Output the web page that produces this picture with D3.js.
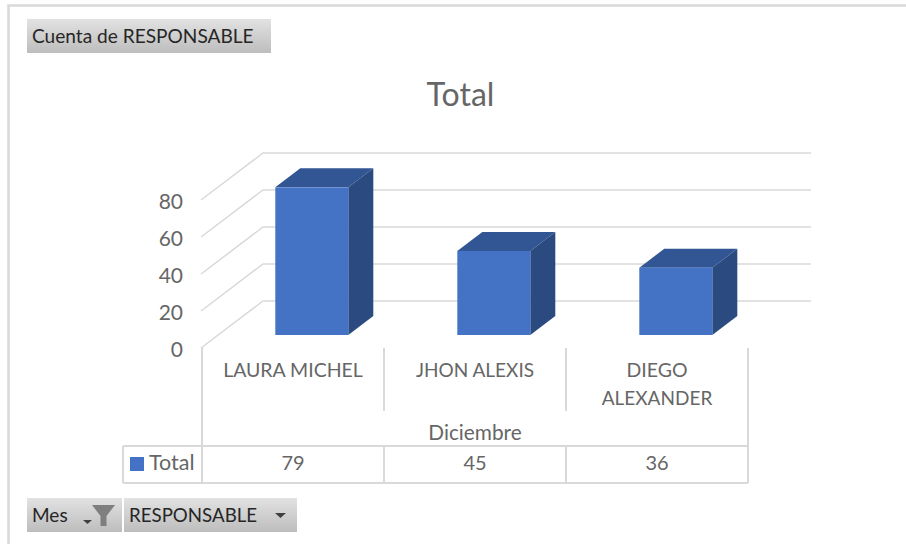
<!DOCTYPE html>
<html><head><meta charset="utf-8">
<script src="https://cdn.jsdelivr.net/npm/d3@7"></script>
<style>html,body{margin:0;padding:0;background:#fff}svg{display:block}text{font-family:Lato,sans-serif}</style>
</head><body><svg id="c" width="906" height="544"></svg>
<script>
const categories = ["LAURA MICHEL", "JHON ALEXIS", "DIEGO ALEXANDER"];
const values = [79, 45, 36];
const yTicks = [0, 20, 40, 60, 80];
const seriesName = "Total";
const groupLabel = "Diciembre";
const title = "Total";
const valueButton = "Cuenta de RESPONSABLE";
const filterButtons = ["Mes", "RESPONSABLE"];

const svg = d3.select("#c");
const defs = svg.append("defs");
const g = defs.append("linearGradient").attr("id","btn").attr("x1",0).attr("x2",0).attr("y1",0).attr("y2",1);
g.append("stop").attr("offset",0).attr("stop-color","#e2e2e2");
g.append("stop").attr("offset",1).attr("stop-color","#bdbdbd");

const grid = "#d9d9d9", txt = "#666666", dark = "#262626";
const x = d3.scaleBand().domain(categories).range([202,748]);
const h = d3.scaleLinear().domain([0,80]).range([0,148]);
const hBar = d3.scaleLinear().domain([0,80]).range([0,149.5]);
const wall = {dx:62, dy:47, frontY:348, right:811};
const bar = {w:73, dx:25, dy:19, base:335};

// chart frame
svg.append("path").attr("d","M906,5.5H8.5V544").attr("fill","none").attr("stroke","#d9d9d9").attr("stroke-width",2.5);

// walls
yTicks.forEach(v=>{
  const fy = wall.frontY - h(v);
  svg.append("path").attr("fill","none").attr("stroke",grid).attr("stroke-width",1.5)
    .attr("d",`M201,${fy}L${201+wall.dx},${fy-wall.dy}H${wall.right}`);
  svg.append("text").attr("x",183).attr("y",fy+8.5).attr("text-anchor","end")
    .attr("font-size",21).attr("fill",txt).text(v);
});

// bars
const bx = c => x(c) + 73.3;
const B = svg.append("g").selectAll("g").data(categories.map((c,i)=>({c,v:values[i]}))).join("g");
B.append("path").attr("fill","#325694").attr("d",d=>{
  const l=bx(d.c), t=bar.base-hBar(d.v);
  return `M${l},${t}l${bar.dx},${-bar.dy}h${bar.w}l${-bar.dx},${bar.dy}z`;
});
B.append("path").attr("fill","#2a4a80").attr("d",d=>{
  const r=bx(d.c)+bar.w, t=bar.base-hBar(d.v);
  return `M${r},${t}l${bar.dx},${-bar.dy}V${bar.base-bar.dy}L${r},${bar.base}z`;
});
B.append("rect").attr("fill","#4472c4").attr("x",d=>bx(d.c)).attr("width",bar.w)
  .attr("y",d=>bar.base-hBar(d.v)).attr("height",d=>hBar(d.v));

// data table
const line=(d,w=2)=>svg.append("path").attr("d",d).attr("fill","none").attr("stroke",grid).attr("stroke-width",w);
const edges=[x(categories[0]),x(categories[1]),x(categories[2]),748];
line(`M${edges[0]},348V483`);
line(`M${edges[3]},348V483`);
line(`M${edges[1]},348V411`);
line(`M${edges[2]},348V411`);
line(`M123,446H748M123,483H748M123,446V483`);
line(`M${edges[1]},446V483M${edges[2]},446V483`);

const fs=19.5;
const lab=(t,xx,yy,s=fs)=>svg.append("text").attr("x",xx).attr("y",yy).attr("text-anchor","middle").attr("font-size",s).attr("fill",txt).text(t);
lab(categories[0],x(categories[0])+x.bandwidth()/2,377);
lab(categories[1],x(categories[1])+x.bandwidth()/2,377,19);
const parts=categories[2].split(" ");
lab(parts[0],x(categories[2])+x.bandwidth()/2,377);
lab(parts[1],x(categories[2])+x.bandwidth()/2,405,19);
lab(groupLabel,475,440,20.8);
values.forEach((v,i)=>lab(v,x(categories[i])+x.bandwidth()/2,470,20));
svg.append("rect").attr("x",130).attr("y",457).attr("width",14).attr("height",14).attr("fill","#4472c4");
svg.append("text").attr("x",149).attr("y",470).attr("font-size",21.5).attr("fill",txt).text(seriesName);

// title
lab(title,460.5,106,32);

// field buttons
const btn=(x0,y0,w,h0,t,tx,s)=>{
  svg.append("rect").attr("x",x0).attr("y",y0).attr("width",w).attr("height",h0).attr("fill","url(#btn)");
  svg.append("text").attr("x",tx).attr("y",y0+24).attr("font-size",s).attr("fill",dark).text(t);
};
btn(27,19,244,34,valueButton,32,19.1);
btn(27,498,95,34,filterButtons[0],32,19);
btn(124,498,173,34,filterButtons[1],129,18.7);
svg.append("path").attr("d","M83,520h9l-4.5,4z").attr("fill","#404040");
svg.append("path").attr("d","M92,505h23l-8.5,11v10h-6v-10z").attr("fill","#7f7f7f");
svg.append("path").attr("d","M275,513h11l-5.5,5z").attr("fill","#404040");
</script></body></html>
